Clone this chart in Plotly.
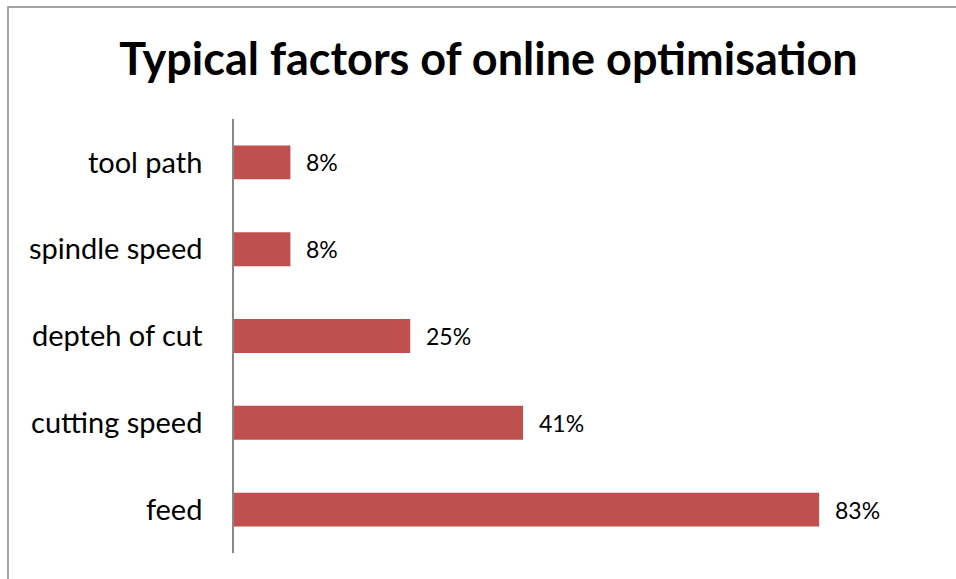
import plotly.graph_objects as go

# Share of studies citing each factor (percent), listed bottom to top
factors = ["feed", "cutting speed", "depteh of cut", "spindle speed", "tool path"]
shares = [83, 41, 25, 8, 8]
title_text = "Typical factors of online optimisation"

BAR_COLOR = "#C0504D"
AXIS_GRAY = "#878787"
FONT = "Lato"

fig = go.Figure(
    go.Bar(
        x=shares,
        y=factors,
        orientation="h",
        marker=dict(color=BAR_COLOR, line=dict(width=0)),
        hoverinfo="skip",
    )
)

# value labels just past the end of each bar
for f, v in zip(factors, shares):
    fig.add_annotation(
        x=v, y=f, xref="x", yref="y",
        text=f"{v}%", showarrow=False,
        xanchor="left", yanchor="middle", xshift=14,
        font=dict(family=FONT, size=23, color="#000000"),
    )

# chart frame (left and top edges fall inside the page)
fig.add_shape(
    type="rect", xref="paper", yref="paper",
    x0=-0.3206, y0=-0.2, x1=1.2, y1=1.258,
    line=dict(color=AXIS_GRAY, width=1.5), layer="below",
)

fig.update_layout(
    width=956, height=579,
    margin=dict(l=234, r=17, t=119, b=26),
    paper_bgcolor="white", plot_bgcolor="white",
    showlegend=False,
    bargap=0.61,
    title=dict(
        text=f"<b>{title_text}</b>",
        x=0.511, xanchor="center", xref="container",
        y=0.897, yanchor="middle",
        font=dict(family=FONT, size=45, color="#000000"),
    ),
    xaxis=dict(range=[0, 100], visible=False, fixedrange=True),
    yaxis=dict(
        categoryorder="array", categoryarray=factors,
        showline=True, linecolor=AXIS_GRAY, linewidth=1.5,
        ticks="", showgrid=False, zeroline=False,
        ticklabelstandoff=24,
        tickfont=dict(family=FONT, size=29, color="#000000"),
        fixedrange=True,
    ),
    font=dict(family=FONT),
)

fig.write_html("out.html")
